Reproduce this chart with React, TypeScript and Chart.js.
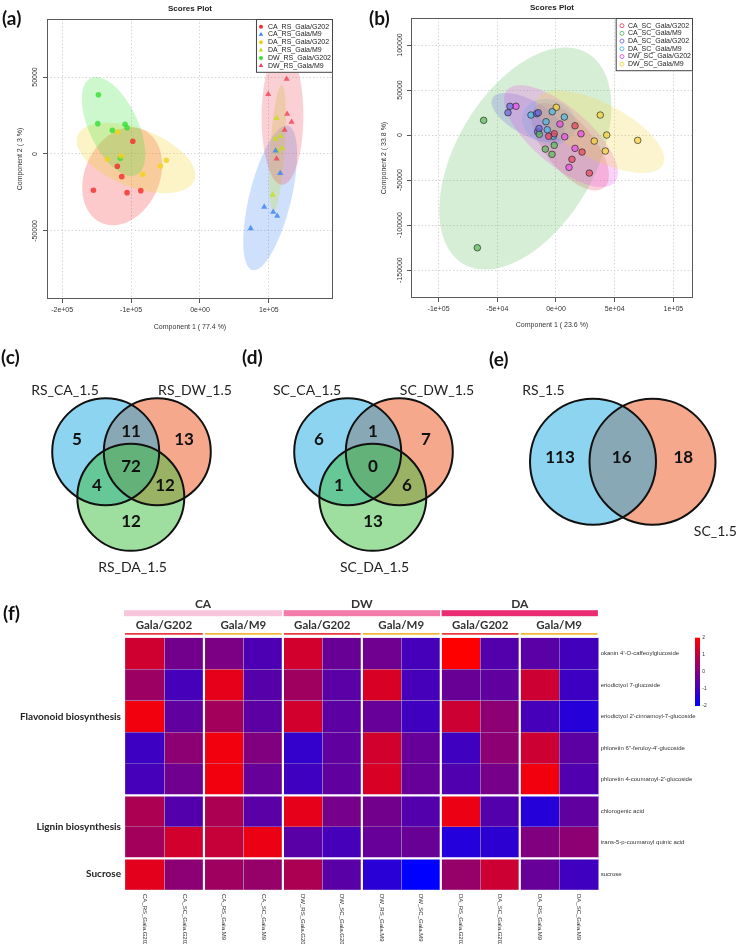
import React, { useEffect, useRef } from 'react';
import { Chart, registerables } from 'chart.js';

Chart.register(...registerables);

const SANS = '"Liberation Sans", Arial, Helvetica, sans-serif';
const LATO = 'Lato, "Open Sans", sans-serif';

// ---------------- (a) Scores plot, RS ----------------
const groupsRS = ['CA_RS_Gala/G202', 'CA_RS_Gala/M9', 'DA_RS_Gala/G202', 'DA_RS_Gala/M9', 'DW_RS_Gala/G202', 'DW_RS_Gala/M9'];
const caRsG202 = [[-97500, 8300], [-119900, -8000], [-113500, -14700], [-154600, -23600], [-105800, -25100], [-85900, -23800]];
const caRsM9 = [[109700, 2100], [116400, -12500], [93200, -34400], [106200, -37700], [112000, -40300], [73500, -48300]];
const daRsG202 = [[-119300, 14500], [-134400, -3400], [-114500, -1300], [-83000, -13200], [-57500, -7800], [-48800, -4100]];
const daRsM9 = [[111200, 23200], [109700, 9700], [116400, 11500], [119300, 3700], [113000, 2100], [105400, -26600]];
const dwRsG202 = [[-147400, 38500], [-148300, 19700], [-127100, 15400], [-108700, 19300], [-105800, 17100], [-115500, -2800]];
const dwRsM9 = [[125700, 48700], [99000, 38800], [126500, 26000], [132900, 20800], [122800, 15600], [111200, -3100]];
const axisTitlesRS = ['Component 1 ( 77.4 %)', 'Component 2 ( 3 %)'];
const xTicksRS = [-200000, -100000, 0, 100000];
const yTicksRS = [-50000, 0, 50000];

// ---------------- (b) Scores plot, SC ----------------
const groupsSC = ['CA_SC_Gala/G202', 'CA_SC_Gala/M9', 'DA_SC_Gala/G202', 'DA_SC_Gala/M9', 'DW_SC_Gala/G202', 'DW_SC_Gala/M9'];
const caScG202 = [[16200, 10300], [-1500, 1400], [-6200, -1400], [22200, -18900], [13600, -27000], [28400, -42200]];
const caScM9 = [[-61600, 16300], [-14200, 800], [-1500, -11400], [-9100, -15600], [-3400, -21400], [-67000, -125200]];
const daScG202 = [[-39200, 31900], [-40900, 24800], [-16400, 23700], [-15100, 24800], [-15600, 3700], [-14500, 7200]];
const daScM9 = [[-21300, 22200], [-3200, 25900], [7100, 20000], [-8500, 14800], [-7400, 5900], [-2300, -1400]];
const dwScG202 = [[-34100, 31900], [3400, 12200], [7400, -1900], [21300, 1400], [16200, -14800], [11100, -35900]];
const dwScM9 = [[300, 30800], [37700, 22200], [43200, 0], [32600, -6700], [69600, -5900], [42000, -17800]];
const axisTitlesSC = ['Component 1 ( 23.6 %)', 'Component 2 ( 33.8 %)'];
const xTicksSC = [-100000, -50000, 0, 50000, 100000];
const yTicksSC = [-150000, -100000, -50000, 0, 50000, 100000];

// ---------------- (c)(d)(e) Venn counts ----------------
// order: A only, B only, C only, A∩B, A∩C, B∩C, A∩B∩C
const setsRS = ['RS_CA_1.5', 'RS_DW_1.5', 'RS_DA_1.5'];
const countsRS = [5, 13, 12, 11, 4, 12, 72];
const setsSC = ['SC_CA_1.5', 'SC_DW_1.5', 'SC_DA_1.5'];
const countsSC = [6, 7, 13, 1, 1, 6, 0];
// order: A only, B only, A∩B
const setsTissue = ['RS_1.5', 'SC_1.5'];
const countsTissue = [113, 18, 16];

// ---------------- (f) Heatmap ----------------
const colLabels = ['CA_RS_Gala.G202', 'CA_SC_Gala.G202', 'CA_RS_Gala.M9', 'CA_SC_Gala.M9', 'DW_RS_Gala.G202', 'DW_SC_Gala.G202', 'DW_RS_Gala.M9', 'DW_SC_Gala.M9', 'DA_RS_Gala.G202', 'DA_SC_Gala.G202', 'DA_RS_Gala.M9', 'DA_SC_Gala.M9'];
const rowLabels = ["okanin 4'-O-caffeoylglucoside", 'eriodictyol 7-glucoside', "eriodictyol 2'-cinnamoyl-7-glucoside", "phloretin 6''-feruloy-4'-glucoside", "phloretin 4-coumaroyl-2'-glucoside", 'chlorogenic acid', 'trans-5-p-coumaroyl quinic acid', 'sucrose'];
const okanin = [1.25, -0.2, -0.05, -0.8, 1.3, -0.35, -0.25, -0.9, 2.0, -0.7, -0.6, -0.95];
const eriodictyol7 = [0.45, -0.9, 1.6, -0.65, 0.5, -0.6, 1.4, -0.9, -0.35, -0.5, 1.2, -1.05];
const eriodictyolCinn = [1.8, -0.5, 0.55, -0.55, 1.3, -0.55, -0.4, -1.0, 1.2, 0.2, -0.9, -1.4];
const phloretinFer = [-1.05, 0.2, 1.8, 0.0, -1.2, -0.5, 1.3, -0.4, -1.0, 0.2, 1.2, -0.55];
const phloretinCou = [-0.9, -0.25, 1.8, -0.4, -1.0, -0.5, 1.4, -0.4, -0.75, -0.15, 1.8, -0.75];
const chlorogenic = [0.7, -0.7, 0.7, -0.6, 1.6, -0.15, -0.2, -0.7, 1.7, -0.7, -1.4, -0.5];
const coumaroylQuinic = [0.55, 1.3, 1.1, 1.7, -0.6, -0.9, -0.4, -0.35, -1.45, -1.3, 0.0, 0.2];
const sucrose = [1.55, 0.2, 0.5, 0.35, 0.7, -0.6, -1.35, -2.0, 0.35, 1.2, -0.4, -1.0];
const treatments = ['CA', 'DW', 'DA'];
const rootstocks = ['Gala/G202', 'Gala/M9'];
const pathways = ['Flavonoid biosynthesis', 'Lignin biosynthesis', 'Sucrose'];
const pathwayRowCounts = [5, 2, 1];
const colorbarTicks = [2, 1, 0, -1, -2];

// ---------------- layout / style constants ----------------
const COLORS_RS = ['#F52C2C', '#3C82F0', '#F2D21B', '#C2E01A', '#36DE36', '#EE4258'];
const SHAPES_RS = ['circle', 'triangle', 'circle', 'triangle', 'circle', 'triangle'];
const COLORS_SC = ['#E8475F', '#5DBB5D', '#6B6BE0', '#4CB8E0', '#EA4FEA', '#F5D23C'];
const SHAPES_SC = ['circle', 'circle', 'circle', 'circle', 'circle', 'circle'];
const TREAT_COLORS = ['#F9C5DA', '#F27BA9', '#EA2C72'];
const ROOT_COLORS = ['#E8262E', '#F3B02A'];
const VENN_COLORS = { A: 'rgba(28,170,226,0.5)', B: 'rgba(235,81,25,0.5)', C: 'rgba(61,189,61,0.5)' };
const V3_CIRCLES = [[105.7, 451.7], [157.3, 451.7], [130.8, 497.3]];
const V3_R = 53.5;
const V3_COUNT_POS = [[77, 440], [184, 440], [131, 522], [131, 432], [97, 486], [165, 486], [131, 467]];
const V3_NAME_POS = [[65, 390], [195, 390], [132.5, 567]];
const V3_SHIFT_D = 242;
const V2_CIRCLES = [[593, 461.7], [652.5, 461.7]];
const V2_R = 63;
const V2_COUNT_POS = [[560, 458], [683.3, 458], [621.7, 458]];
const V2_NAME_POS = [[543.5, 390], [715.3, 531.7]];

function rgba(hex: string, a: number) {
  const n = parseInt(hex.slice(1), 16);
  return `rgba(${(n >> 16) & 255},${(n >> 8) & 255},${n & 255},${a})`;
}

function sci(v: number): string {
  if (v === 0) return '0e+00';
  const e = Math.floor(Math.log10(Math.abs(v)) + 1e-9);
  const m = Math.round(v / Math.pow(10, e));
  const ae = Math.abs(e);
  return `${m}e${e < 0 ? '-' : '+'}${ae < 10 ? '0' + ae : ae}`;
}

// 95% confidence ellipse computed from the group's points
function covEllipse(pts: number[][], k: number, n = 120): number[][] {
  const m = pts.length;
  const mx = pts.reduce((s, p) => s + p[0], 0) / m;
  const my = pts.reduce((s, p) => s + p[1], 0) / m;
  let sxx = 0, syy = 0, sxy = 0;
  pts.forEach(([x, y]) => { sxx += (x - mx) ** 2; syy += (y - my) ** 2; sxy += (x - mx) * (y - my); });
  sxx /= m - 1; syy /= m - 1; sxy /= m - 1;
  const tr = (sxx + syy) / 2;
  const d = Math.sqrt(((sxx - syy) / 2) ** 2 + sxy ** 2);
  const l1 = tr + d, l2 = Math.max(tr - d, 0);
  const th = 0.5 * Math.atan2(2 * sxy, sxx - syy);
  const out: number[][] = [];
  for (let i = 0; i < n; i++) {
    const t = (2 * Math.PI * i) / n;
    const ex = k * Math.sqrt(l1) * Math.cos(t), ey = k * Math.sqrt(l2) * Math.sin(t);
    out.push([mx + ex * Math.cos(th) - ey * Math.sin(th), my + ex * Math.sin(th) + ey * Math.cos(th)]);
  }
  return out;
}

function heatColor(v: number) {
  const t = Math.max(0, Math.min(1, (v + 2) / 4));
  return `rgb(${Math.round(255 * t)},0,${Math.round(255 * (1 - t))})`;
}

function scoresConfig(spec: any) {
  const deco = {
    id: 'scoresDeco',
    beforeDatasetsDraw(chart: any) {
      const { ctx, chartArea: ca, scales } = chart;
      ctx.save();
      ctx.beginPath();
      ctx.rect(ca.left, ca.top, ca.right - ca.left, ca.bottom - ca.top);
      ctx.clip();
      spec.series.forEach((s: number[][], i: number) => {
        const poly = covEllipse(s, 2.4477);
        ctx.beginPath();
        poly.forEach(([vx, vy], j) => {
          const px = scales.x.getPixelForValue(vx), py = scales.y.getPixelForValue(vy);
          if (j === 0) ctx.moveTo(px, py); else ctx.lineTo(px, py);
        });
        ctx.closePath();
        ctx.fillStyle = rgba(spec.colors[i], spec.ellipseAlpha);
        ctx.fill();
      });
      ctx.restore();
    },
    afterDatasetsDraw(chart: any) {
      const { ctx, chartArea: ca, scales } = chart;
      ctx.save();
      ctx.strokeStyle = '#5a5a5a';
      ctx.lineWidth = 1;
      ctx.strokeRect(ca.left + 0.5, ca.top + 0.5, ca.right - ca.left - 1, ca.bottom - ca.top - 1);
      ctx.fillStyle = '#222';
      ctx.font = `bold 8px ${SANS}`;
      ctx.textAlign = 'center';
      ctx.textBaseline = 'middle';
      ctx.fillText('Scores Plot', (ca.left + ca.right) / 2, ca.top - spec.titleGap);
      ctx.font = `7px ${SANS}`;
      ctx.fillStyle = '#333';
      scales.y.ticks.forEach((t: any) => {
        const py = scales.y.getPixelForValue(t.value);
        ctx.save();
        ctx.translate(ca.left - spec.yLabelOffset, py);
        ctx.rotate(-Math.PI / 2);
        ctx.textAlign = 'center';
        ctx.textBaseline = 'middle';
        ctx.fillText(String(t.value), 0, 0);
        ctx.restore();
      });
      // legend
      ctx.font = `7px ${SANS}`;
      const tw = Math.max(...spec.groups.map((g: string) => ctx.measureText(g).width));
      const lw = spec.legendTextX + tw + 2;
      const step = spec.legendStep;
      const lh = step * spec.groups.length + 7;
      const lx = ca.right - lw, ly = ca.top;
      ctx.fillStyle = '#fff';
      ctx.fillRect(lx, ly, lw, lh);
      ctx.strokeStyle = '#444';
      ctx.strokeRect(lx + 0.5, ly + 0.5, lw - 1, lh - 1);
      spec.groups.forEach((g: string, i: number) => {
        const cy = ly + 7.7 + i * step;
        const mx = lx + spec.legendMarkerX;
        ctx.beginPath();
        if (spec.shapes[i] === 'triangle') {
          const r = 2.6;
          ctx.moveTo(mx, cy - r);
          ctx.lineTo(mx + r * 0.866, cy + r / 2);
          ctx.lineTo(mx - r * 0.866, cy + r / 2);
          ctx.closePath();
        } else {
          ctx.arc(mx, cy, 2, 0, Math.PI * 2);
        }
        if (spec.legendHollow) {
          ctx.strokeStyle = spec.colors[i];
          ctx.lineWidth = 0.9;
          ctx.stroke();
        } else {
          ctx.fillStyle = spec.colors[i];
          ctx.fill();
        }
        ctx.fillStyle = '#222';
        ctx.textAlign = 'left';
        ctx.textBaseline = 'middle';
        ctx.fillText(g, lx + spec.legendTextX, cy);
      });
      ctx.restore();
    },
  };
  const tickFont = { size: 7, family: SANS };
  return {
    type: 'scatter',
    data: {
      datasets: spec.series.map((s: number[][], i: number) => ({
        label: spec.groups[i],
        data: s.map(([x, y]) => ({ x, y })),
        pointStyle: spec.shapes[i],
        pointRadius: spec.shapes[i] === 'triangle' ? spec.triR : spec.circR,
        backgroundColor: rgba(spec.colors[i], spec.pointAlpha),
        borderColor: spec.outline ? spec.outline : rgba(spec.colors[i], spec.pointAlpha),
        borderWidth: spec.outline ? 0.8 : 0,
      })),
    },
    options: {
      animation: false,
      responsive: false,
      maintainAspectRatio: false,
      events: [],
      layout: { autoPadding: false, padding: { left: 0, top: spec.area.top, right: spec.w - spec.area.right, bottom: 0 } },
      plugins: { legend: { display: false }, tooltip: { enabled: false } },
      scales: {
        x: {
          type: 'linear',
          min: spec.xMin,
          max: spec.xMax,
          afterBuildTicks: (s: any) => { s.ticks = spec.xTicks.map((v: number) => ({ value: v })); },
          ticks: { autoSkip: false, maxRotation: 0, callback: (v: number) => sci(v), font: tickFont, color: '#333', padding: 3 },
          grid: { color: '#d6d6d6', tickColor: '#555', tickLength: 4, tickBorderDash: [1, 0] },
          border: { display: false, dash: [1.5, 2] },
          title: { display: true, text: spec.titles[0], font: tickFont, color: '#333', padding: { top: 0, bottom: spec.xTitlePad } },
          afterFit: (s: any) => { s.height = spec.h - spec.area.bottom; },
        },
        y: {
          type: 'linear',
          min: spec.yMin,
          max: spec.yMax,
          afterBuildTicks: (s: any) => { s.ticks = spec.yTicks.map((v: number) => ({ value: v })); },
          ticks: { display: false },
          grid: { color: '#d6d6d6', tickColor: '#555', tickLength: 4, tickBorderDash: [1, 0] },
          border: { display: false, dash: [1.5, 2] },
          title: { display: true, text: spec.titles[1], font: tickFont, color: '#333', padding: { top: spec.yTitlePad, bottom: 0 } },
          afterFit: (s: any) => { s.width = spec.area.left; },
        },
      },
    },
    plugins: [deco],
  };
}

function vennConfig() {
  const fillPts: any[] = [];
  const fillCols: string[] = [];
  const outline: any[] = [];
  [0, V3_SHIFT_D].forEach((sh) => {
    const [a, b, c] = V3_CIRCLES;
    [[b, VENN_COLORS.B], [a, VENN_COLORS.A], [c, VENN_COLORS.C]].forEach(([p, col]: any) => {
      fillPts.push({ x: p[0] + sh, y: p[1], r: V3_R });
      fillCols.push(col);
      outline.push({ x: p[0] + sh, y: p[1], r: V3_R });
    });
  });
  [[V2_CIRCLES[1], VENN_COLORS.B], [V2_CIRCLES[0], VENN_COLORS.A]].forEach(([p, col]: any) => {
    fillPts.push({ x: p[0], y: p[1], r: V2_R });
    fillCols.push(col);
    outline.push({ x: p[0], y: p[1], r: V2_R });
  });

  const labels: any[] = [];
  const add3 = (names: string[], counts: number[], sh: number) => {
    names.forEach((n, i) => labels.push({ text: n, x: V3_NAME_POS[i][0] + sh, y: V3_NAME_POS[i][1], bold: false }));
    counts.forEach((c, i) => labels.push({ text: String(c), x: V3_COUNT_POS[i][0] + sh, y: V3_COUNT_POS[i][1], bold: true }));
  };
  add3(setsRS, countsRS, 0);
  add3(setsSC, countsSC, V3_SHIFT_D);
  setsTissue.forEach((n, i) => labels.push({ text: n, x: V2_NAME_POS[i][0], y: V2_NAME_POS[i][1], bold: false }));
  countsTissue.forEach((c, i) => labels.push({ text: String(c), x: V2_COUNT_POS[i][0], y: V2_COUNT_POS[i][1], bold: true }));

  const textPlugin = {
    id: 'vennText',
    afterDatasetsDraw(chart: any) {
      const { ctx, scales } = chart;
      ctx.save();
      ctx.textAlign = 'center';
      ctx.textBaseline = 'middle';
      labels.forEach((l) => {
        ctx.font = l.bold ? `bold 17px ${LATO}` : `14px ${LATO}`;
        ctx.fillStyle = l.bold ? '#111' : '#222';
        ctx.fillText(l.text, scales.x.getPixelForValue(l.x), scales.y.getPixelForValue(l.y));
      });
      ctx.restore();
    },
  };

  return {
    type: 'bubble',
    data: {
      datasets: [
        { label: 'outline', data: outline, backgroundColor: 'rgba(0,0,0,0)', borderColor: '#111', borderWidth: 2, order: 0 },
        { label: 'fill', data: fillPts, backgroundColor: fillCols, borderWidth: 0, order: 1 },
      ],
    },
    options: {
      animation: false,
      responsive: false,
      maintainAspectRatio: false,
      events: [],
      layout: { autoPadding: false, padding: 0 },
      plugins: { legend: { display: false }, tooltip: { enabled: false } },
      scales: {
        x: { type: 'linear', min: 0, max: 742, display: false },
        y: { type: 'linear', min: 340, max: 590, reverse: true, display: false },
      },
    },
    plugins: [textPlugin],
  };
}

function heatConfig() {
  const rows = [okanin, eriodictyol7, eriodictyolCinn, phloretinFer, phloretinCou, chlorogenic, coumaroylQuinic, sucrose];
  const deco = {
    id: 'heatDeco',
    afterDraw(chart: any) {
      const { ctx, chartArea: ca, scales } = chart;
      const xs = scales.x, ys = scales.y;
      const T = ca.top, B = ca.bottom;
      const colPx = (c: number) => xs.getPixelForValue(c);
      const h = ys.getPixelForValue(1) - ys.getPixelForValue(0);
      const rowEdge = (r: number) => ys.getPixelForValue(0) - h / 2 + r * h;
      ctx.save();
      // white separators
      ctx.strokeStyle = '#fff';
      ctx.lineWidth = 2.2;
      for (let c = 2; c < colLabels.length; c += 2) {
        const x = colPx(c);
        ctx.beginPath(); ctx.moveTo(x, T - 0.5); ctx.lineTo(x, B + 0.5); ctx.stroke();
      }
      let r = 0;
      pathwayRowCounts.slice(0, -1).forEach((n) => {
        r += n;
        const y = rowEdge(r);
        ctx.beginPath(); ctx.moveTo(ca.left, y); ctx.lineTo(ca.right, y); ctx.stroke();
      });
      // treatment headers
      treatments.forEach((t, i) => {
        const x0 = colPx(i * 4) + (i === 0 ? -1 : 0.8), x1 = colPx(i * 4 + 4) - 0.8;
        ctx.fillStyle = TREAT_COLORS[i];
        ctx.fillRect(x0, T - 27.5, x1 - x0, 6);
        ctx.fillStyle = '#333';
        ctx.font = `bold 12px ${LATO}`;
        ctx.textAlign = 'center';
        ctx.textBaseline = 'middle';
        ctx.fillText(t, (x0 + x1) / 2, T - 34);
        rootstocks.forEach((rs, j) => {
          const c0 = i * 4 + j * 2;
          const u0 = colPx(c0) + (c0 === 0 ? 0 : 1), u1 = colPx(c0 + 2) - 1.2;
          ctx.fillStyle = ROOT_COLORS[j];
          ctx.fillRect(u0, T - 4.6, u1 - u0, 1.6);
          ctx.fillStyle = '#333';
          ctx.font = `bold 11.5px ${LATO}`;
          ctx.fillText(rs, (u0 + u1) / 2, T - 12);
        });
      });
      // pathway labels
      ctx.font = `bold 10px ${LATO}`;
      ctx.fillStyle = '#222';
      ctx.textAlign = 'right';
      ctx.textBaseline = 'middle';
      let r0 = 0;
      pathways.forEach((p, i) => {
        const y = (rowEdge(r0) + rowEdge(r0 + pathwayRowCounts[i])) / 2;
        ctx.fillText(p, ca.left - 4, y);
        r0 += pathwayRowCounts[i];
      });
      // column labels (rotated)
      ctx.font = `6px ${SANS}`;
      ctx.fillStyle = '#333';
      colLabels.forEach((lab, c) => {
        ctx.save();
        ctx.translate(colPx(c + 0.5), B + 4);
        ctx.rotate(Math.PI / 2);
        ctx.textAlign = 'left';
        ctx.textBaseline = 'middle';
        ctx.fillText(lab, 0, 0);
        ctx.restore();
      });
      // colour bar
      const bx = ca.right + 96.3, bw = 5, by = T, bh = 68.3;
      const g = ctx.createLinearGradient(0, by, 0, by + bh);
      g.addColorStop(0, heatColor(2));
      g.addColorStop(0.5, heatColor(0));
      g.addColorStop(1, heatColor(-2));
      ctx.fillStyle = g;
      ctx.fillRect(bx, by, bw, bh);
      ctx.font = `5px ${SANS}`;
      ctx.fillStyle = '#333';
      ctx.textAlign = 'left';
      colorbarTicks.forEach((v, i) => {
        ctx.fillText(String(v), bx + bw + 2.3, by + (bh * i) / (colorbarTicks.length - 1));
      });
      ctx.restore();
    },
  };
  return {
    type: 'bar',
    data: {
      labels: rowLabels,
      datasets: colLabels.map((cl, c) => ({
        label: cl,
        data: rows.map(() => [c, c + 1]),
        backgroundColor: rows.map((rv) => heatColor(rv[c])),
        borderColor: 'rgba(175,160,200,0.75)',
        borderWidth: 0.5,
        borderSkipped: false,
        grouped: false,
        barPercentage: 1,
        categoryPercentage: 1,
      })),
    },
    options: {
      indexAxis: 'y',
      animation: false,
      responsive: false,
      maintainAspectRatio: false,
      events: [],
      layout: { autoPadding: false, padding: { left: 125, top: 47.7, bottom: 54, right: 0 } },
      plugins: { legend: { display: false }, tooltip: { enabled: false } },
      scales: {
        x: { type: 'linear', min: 0, max: colLabels.length, display: false },
        y: {
          type: 'category',
          position: 'right',
          grid: { display: false, drawTicks: false, tickLength: 0 },
          border: { display: false },
          ticks: { autoSkip: false, font: { size: 6, family: SANS }, color: '#333', padding: 2 },
          afterFit: (s: any) => { s.width = 143.3; },
        },
      },
    },
    plugins: [deco],
  };
}

const panelLabel: React.CSSProperties = {
  position: 'absolute',
  fontFamily: LATO,
  fontWeight: 700,
  fontSize: 19,
  lineHeight: '19px',
  color: '#111',
};

export default function App() {
  const aRef = useRef<HTMLCanvasElement>(null);
  const bRef = useRef<HTMLCanvasElement>(null);
  const vRef = useRef<HTMLCanvasElement>(null);
  const hRef = useRef<HTMLCanvasElement>(null);

  useEffect(() => {
    document.body.style.margin = '0';
    const charts: Chart[] = [];
    charts.push(new Chart(aRef.current as HTMLCanvasElement, scoresConfig({
      groups: groupsRS,
      series: [caRsG202, caRsM9, daRsG202, daRsM9, dwRsG202, dwRsM9],
      colors: COLORS_RS, shapes: SHAPES_RS,
      titles: axisTitlesRS,
      xMin: -222000, xMax: 193000, xTicks: xTicksRS,
      yMin: -94200, yMax: 87700, yTicks: yTicksRS,
      w: 370, h: 340, area: { left: 47, top: 19, right: 333, bottom: 299 },
      xTitlePad: 8.8, yTitlePad: 15.8, yLabelOffset: 11.5, titleGap: 10,
      ellipseAlpha: 0.25, pointAlpha: 0.8, circR: 2.8, triR: 3.6, outline: null,
      legendStep: 7.8, legendMarkerX: 5, legendTextX: 12, legendHollow: false,
    }) as any));
    charts.push(new Chart(bRef.current as HTMLCanvasElement, scoresConfig({
      groups: groupsSC,
      series: [caScG202, caScM9, daScG202, daScM9, dwScG202, dwScM9],
      colors: COLORS_SC, shapes: SHAPES_SC,
      titles: axisTitlesSC,
      xMin: -123500, xMax: 116700, xTicks: xTicksSC,
      yMin: -181000, yMax: 130000, yTicks: yTicksSC,
      w: 372, h: 340, area: { left: 41, top: 18, right: 323, bottom: 298 },
      xTitlePad: 10.8, yTitlePad: 9.6, yLabelOffset: 10.5, titleGap: 10.7,
      ellipseAlpha: 0.25, pointAlpha: 0.72, circR: 3.3, triR: 3.6, outline: 'rgba(40,40,40,0.85)',
      legendStep: 7.7, legendMarkerX: 6.3, legendTextX: 12.3, legendHollow: true,
    }) as any));
    charts.push(new Chart(vRef.current as HTMLCanvasElement, vennConfig() as any));
    charts.push(new Chart(hRef.current as HTMLCanvasElement, heatConfig() as any));
    return () => charts.forEach((c) => c.destroy());
  }, []);

  return (
    <div style={{ position: 'relative', width: 742, height: 944, background: '#fff', overflow: 'hidden' }}>
      <canvas ref={aRef} width={370} height={340} style={{ position: 'absolute', left: 0, top: 0, width: 370, height: 340 }} />
      <canvas ref={bRef} width={372} height={340} style={{ position: 'absolute', left: 370, top: 0, width: 372, height: 340 }} />
      <canvas ref={vRef} width={742} height={250} style={{ position: 'absolute', left: 0, top: 340, width: 742, height: 250 }} />
      <canvas ref={hRef} width={742} height={354} style={{ position: 'absolute', left: 0, top: 590, width: 742, height: 354 }} />
      <div style={{ ...panelLabel, left: 2, top: 8 }}>(a)</div>
      <div style={{ ...panelLabel, left: 369, top: 8 }}>(b)</div>
      <div style={{ ...panelLabel, left: 1, top: 347 }}>(c)</div>
      <div style={{ ...panelLabel, left: 242, top: 347 }}>(d)</div>
      <div style={{ ...panelLabel, left: 489, top: 349 }}>(e)</div>
      <div style={{ ...panelLabel, left: 3, top: 603 }}>(f)</div>
    </div>
  );
}
